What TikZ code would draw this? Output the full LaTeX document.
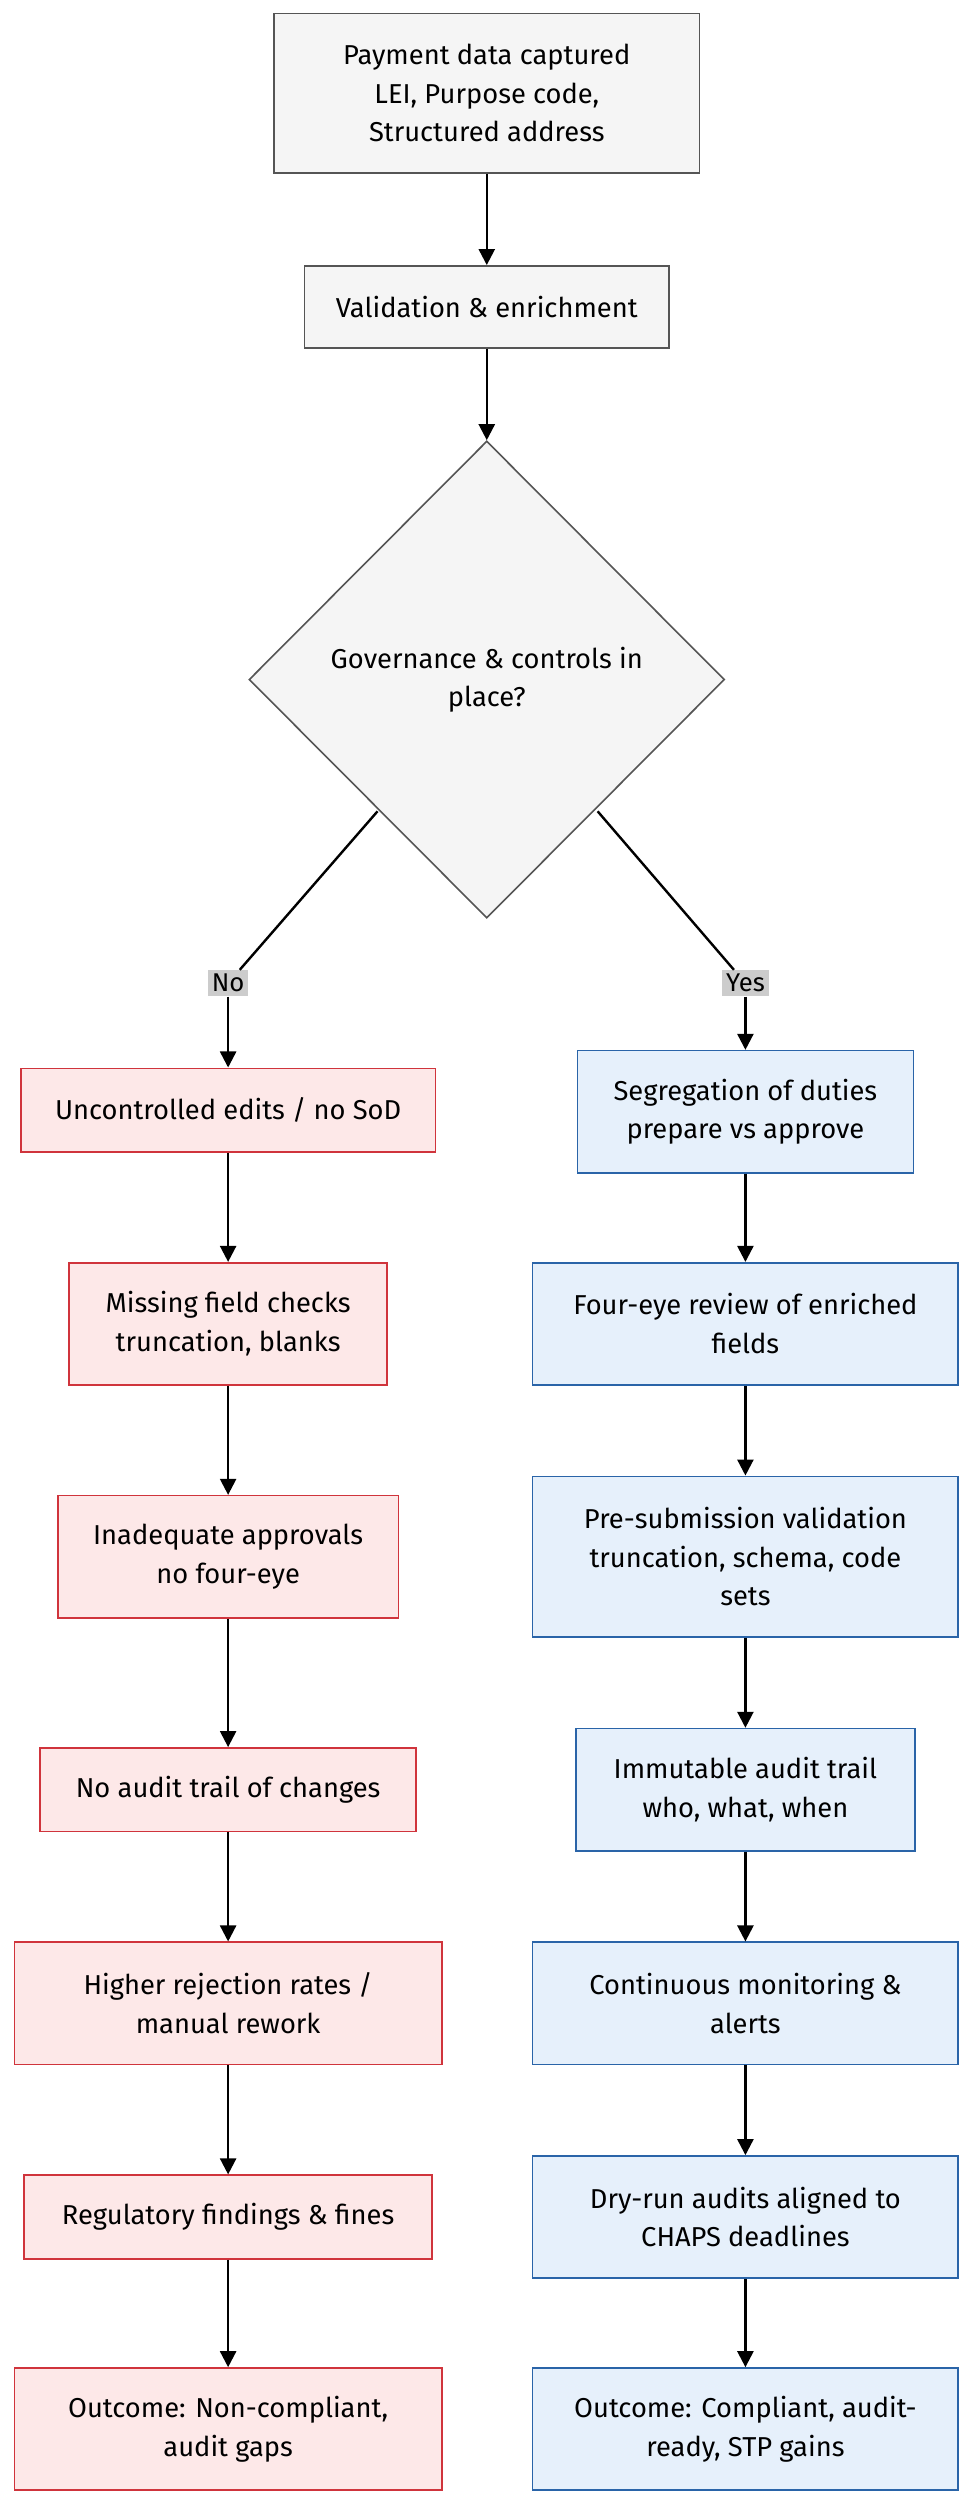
\documentclass[tikz,border=0pt]{standalone}
\usepackage{fontspec}
\setmainfont{Fira Sans}
\usetikzlibrary{shapes.geometric,arrows.meta}
\definecolor{gfill}{HTML}{F5F5F5}\definecolor{gline}{HTML}{555555}
\definecolor{rfill}{HTML}{FDE8E8}\definecolor{rline}{HTML}{D0343C}
\definecolor{bfill}{HTML}{E6F0FB}\definecolor{bline}{HTML}{2A64A8}
\begin{document}
\begin{tikzpicture}[x=1pt,y=-1pt,
 every node/.style={font=\fontsize{17}{24}\selectfont,align=center,inner sep=0pt},
 g/.style={draw=gline,fill=gfill,line width=1pt,rectangle},
 r/.style={draw=rline,fill=rfill,line width=1pt,rectangle},
 b/.style={draw=bline,fill=bfill,line width=1pt,rectangle},
 lab/.style={fill=black!20,inner sep=2.5pt,font=\fontsize{16}{18}\selectfont},
 arr/.style={line width=1.5pt,-{Triangle[length=10pt,width=10pt]}},
 ln/.style={line width=1.5pt}]
\useasboundingbox (0,0) rectangle (610,1568);
\node[g,minimum width=265,minimum height=99] (a) at (303,58) {Payment data captured\\LEI, Purpose code,\\Structured address};
\node[g,minimum width=227,minimum height=51] (v) at (303,191) {Validation \& enrichment};
\node[g,diamond,minimum width=296,minimum height=297,aspect=1] (d) at (303,423) {Governance \& controls in\\place?};
\node[lab] (no) at (142,612) {No};
\node[lab] (yes) at (464,612) {Yes};
\coordinate (dl) at (235,505); \coordinate (dr) at (372,505);
\foreach \n/\y/\w/\h/\t in {l1/691/258/52/{Uncontrolled edits / no SoD},
 l2/824/198/76/{Missing field checks\\truncation, blanks},
 l3/969/212/76/{Inadequate approvals\\no four-eye},
 l4/1114/234/52/{No audit trail of changes},
 l5/1247/266/76/{Higher rejection rates /\\manual rework},
 l6/1380/254/52/{Regulatory findings \& fines},
 l7/1512/266/76/{Outcome: Non-compliant,\\audit gaps}}
 \node[r,minimum width=\w,minimum height=\h] (\n) at (142,\y) {\t};
\foreach \n/\y/\w/\h/\t in {r1/692/209/76/{Segregation of duties\\prepare vs approve},
 r2/824/265/76/{Four-eye review of enriched\\fields},
 r3/969/265/100/{Pre-submission validation\\truncation, schema, code\\sets},
 r4/1114/211/76/{Immutable audit trail\\who, what, when},
 r5/1247/265/76/{Continuous monitoring \&\\alerts},
 r6/1380/265/76/{Dry-run audits aligned to\\CHAPS deadlines},
 r7/1512/265/76/{Outcome: Compliant, audit-\\ready, STP gains}}
 \node[b,minimum width=\w,minimum height=\h] (\n) at (464,\y) {\t};
\draw[arr] (a) -- (v);
\draw[arr] (v) -- (d);
\draw[ln] (dl) -- (no); \draw[arr] (no) -- (l1);
\draw[ln] (dr) -- (yes); \draw[arr] (yes) -- (r1);
\foreach \p/\q in {l1/l2,l2/l3,l3/l4,l4/l5,l5/l6,l6/l7,r1/r2,r2/r3,r3/r4,r4/r5,r5/r6,r6/r7}
 \draw[arr] (\p) -- (\q);
\end{tikzpicture}
\end{document}
